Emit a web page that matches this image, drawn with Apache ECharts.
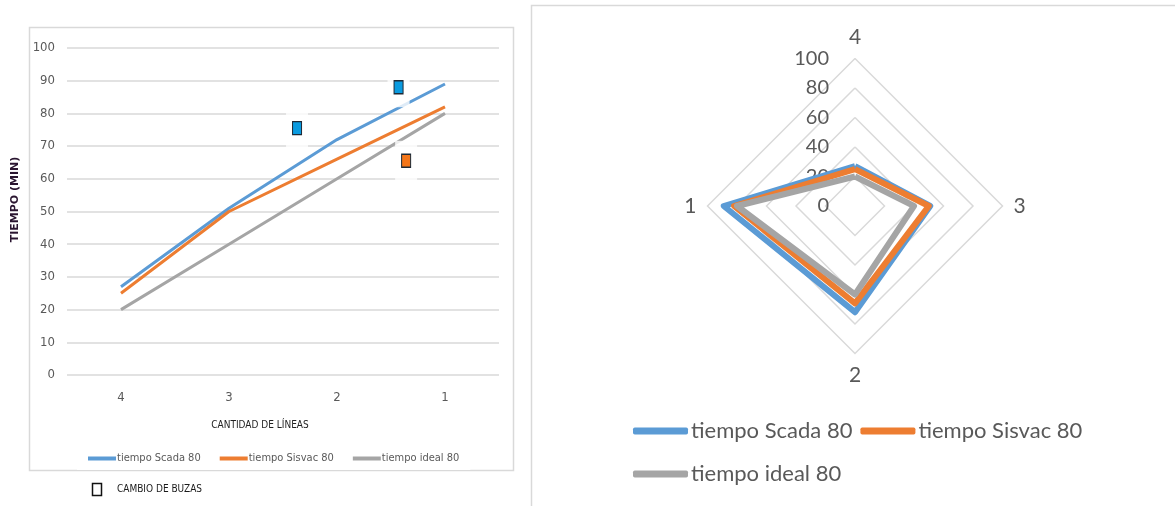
<!DOCTYPE html>
<html>
<head>
<meta charset="utf-8">
<script src="https://cdn.jsdelivr.net/npm/echarts@6/dist/echarts.min.js"></script>
<style>
  html, body { margin: 0; padding: 0; background: #fff; }
  #chart { width: 1175px; height: 506px; }
</style>
</head>
<body>
<div id="chart"></div>
<script>
// datos
const categories = ['4', '3', '2', '1'];
const scada = [27, 51, 72, 89];
const sisvac = [25, 50, 66, 82];
const ideal = [20, 40, 60, 80];
const seriesNames = ['tiempo Scada 80', 'tiempo Sisvac 80', 'tiempo ideal 80'];
const colors = ['#5b9bd5', '#ed7d31', '#a5a5a5'];
// cambio de buzas: [posicion en eje x, tiempo]
const cambioScada = [[1.63, 75.5], [2.57, 88]];
const cambioSisvac = [[2.64, 65.5]];
// orden de los ejes del radar (arriba, izquierda, abajo, derecha)
const radarOrder = ['4', '1', '2', '3'];

const narrow = "'Liberation Sans Narrow', 'DejaVu Sans Condensed', sans-serif";
const calib = "Lato, 'Open Sans', sans-serif";
const gray = '#595959';

const lineData = [scada, sisvac, ideal];
const radarValues = arr => radarOrder.map(c => arr[categories.indexOf(c)]);

const myChart = echarts.init(document.getElementById('chart'));

const lineSeries = lineData.map((d, i) => ({
    name: seriesNames[i],
    type: 'line',
    xAxisIndex: 0,
    yAxisIndex: 0,
    data: d,
    symbol: 'none',
    z: 2,
    lineStyle: { width: 3, color: colors[i] },
    itemStyle: { color: colors[i] }
}));

const boxSeries = {
    type: 'scatter',
    xAxisIndex: 1,
    yAxisIndex: 0,
    data: cambioScada.concat(cambioSisvac),
    symbol: 'rect',
    symbolSize: [22, 40],
    z: 3,
    silent: true,
    itemStyle: { color: '#fff' }
};

const markerSeries = [[cambioScada, '#0a9be0'], [cambioSisvac, '#f47619']].map(m => ({
    type: 'scatter',
    xAxisIndex: 1,
    yAxisIndex: 0,
    data: m[0],
    symbol: 'rect',
    symbolSize: [9, 13],
    z: 4,
    itemStyle: { color: m[1], borderColor: '#1e2a36', borderWidth: 1.2, opacity: 1 }
}));

const radarSeries = lineData.map((d, i) => ({
    name: seriesNames[i],
    type: 'radar',
    radarIndex: 0,
    symbol: 'none',
    z: 2,
    lineStyle: { width: 6, color: colors[i] },
    itemStyle: { color: colors[i] },
    data: [{ name: seriesNames[i], value: radarValues(d) }]
}));

myChart.setOption({
    animation: false,
    color: colors,
    graphic: [
        {
            type: 'rect', z: -10, silent: true,
            shape: { x: 29.5, y: 27.5, width: 484, height: 443 },
            style: { fill: 'none', stroke: '#d9d9d9', lineWidth: 1.5 }
        },
        {
            type: 'rect', z: -10, silent: true,
            shape: { x: 531.5, y: 5.5, width: 700, height: 600 },
            style: { fill: 'none', stroke: '#d9d9d9', lineWidth: 1.5 }
        },
        {
            type: 'rect', silent: true,
            shape: { x: 92.5, y: 483.5, width: 9, height: 12 },
            style: { fill: '#fff', stroke: '#111', lineWidth: 1.5 }
        },
        {
            type: 'text', silent: true, x: 117, y: 489,
            style: {
                text: 'CAMBIO DE BUZAS', fill: '#1a1a1a',
                font: '10px ' + narrow, verticalAlign: 'middle'
            }
        }
    ],
    grid: [
        { left: 67, top: 48, width: 432, height: 327 },
        { left: 855, top: 58.5, width: 1, height: 147.5 }
    ],
    xAxis: [
        {
            type: 'category',
            gridIndex: 0,
            data: categories,
            boundaryGap: true,
            axisLine: { show: false },
            axisTick: { show: false },
            axisLabel: { color: gray, fontSize: 13, fontFamily: narrow, margin: 16 },
            name: 'CANTIDAD DE LÍNEAS',
            nameLocation: 'middle',
            nameGap: 45,
            nameTextStyle: { color: '#222', fontSize: 10, fontFamily: narrow, padding: [0, 46, 0, 0] }
        },
        { type: 'value', gridIndex: 0, min: -0.5, max: 3.5, show: false },
        { type: 'value', gridIndex: 1, show: false }
    ],
    yAxis: [
        {
            type: 'value',
            gridIndex: 0,
            min: 0,
            max: 100,
            interval: 10,
            axisLine: { show: false },
            axisTick: { show: false },
            splitLine: { lineStyle: { color: '#d9d9d9', width: 1.5 } },
            axisLabel: { color: gray, fontSize: 13, fontFamily: narrow, margin: 12 },
            name: 'TIEMPO (MIN)',
            nameLocation: 'middle',
            nameGap: 46,
            nameTextStyle: {
                color: '#2a1530', fontSize: 11, fontWeight: 'bold',
                fontFamily: "'DejaVu Sans', sans-serif", padding: [0, 0, 0, 24]
            }
        },
        {
            type: 'value',
            gridIndex: 1,
            min: 0,
            max: 100,
            interval: 20,
            axisLine: { show: false },
            axisTick: { show: false },
            splitLine: { show: false },
            axisLabel: { color: gray, fontSize: 20, fontFamily: calib, margin: 26 }
        }
    ],
    radar: {
        center: [855, 206],
        radius: 147.5,
        startAngle: 90,
        shape: 'polygon',
        splitNumber: 5,
        indicator: radarOrder.map(c => ({ name: c, min: 0, max: 100 })),
        axisName: { color: gray, fontSize: 21, fontFamily: calib },
        nameGap: 11,
        axisLine: { show: false },
        axisTick: { show: false },
        axisLabel: { show: false },
        splitArea: { show: false },
        splitLine: { lineStyle: { color: '#d9d9d9', width: 1.5 } }
    },
    legend: [
        {
            data: seriesNames,
            left: 77,
            top: 447,
            icon: 'rect',
            itemWidth: 28,
            itemHeight: 4,
            itemGap: 19,
            padding: [6, 11],
            backgroundColor: '#fff',
            textStyle: { color: gray, fontSize: 11, fontFamily: narrow, padding: [0, 0, 0, -4] },
            selectedMode: false
        },
        {
            data: seriesNames.slice(0, 2),
            left: 628,
            top: 415,
            icon: 'roundRect',
            itemWidth: 55,
            itemHeight: 7,
            itemGap: 8,
            textStyle: { color: gray, fontSize: 22, fontFamily: calib, padding: [0, 0, 0, -2] },
            selectedMode: false
        },
        {
            data: seriesNames.slice(2),
            left: 628,
            top: 458,
            icon: 'roundRect',
            itemWidth: 55,
            itemHeight: 7,
            textStyle: { color: gray, fontSize: 22, fontFamily: calib, padding: [0, 0, 0, -2] },
            selectedMode: false
        }
    ],
    series: [...lineSeries, boxSeries, ...markerSeries, ...radarSeries]
});

window.addEventListener('resize', () => {
    myChart.resize();
}, false);
</script>
</body>
</html>
